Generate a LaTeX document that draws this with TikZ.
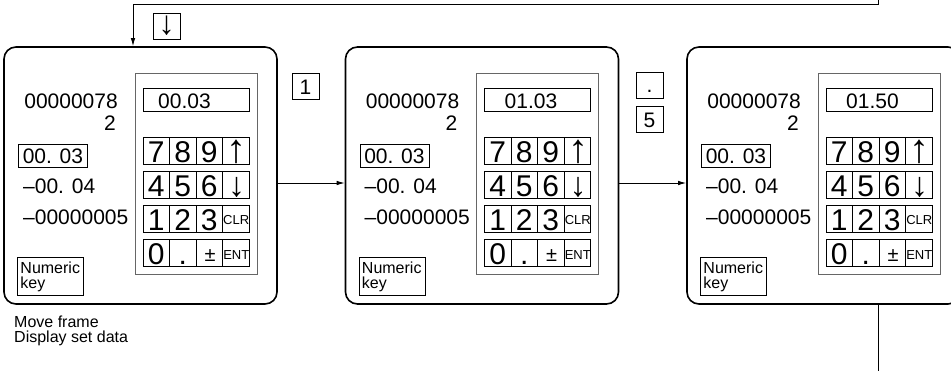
\documentclass[tikz,border=0pt]{standalone}
\usepackage{fontspec}
\setmainfont{Liberation Sans}
\usetikzlibrary{arrows.meta}
\tikzset{
  screen/.style={draw,line width=1.6pt,rounded corners=12pt,minimum width=273pt,minimum height=257pt,inner sep=0},
  panel/.style={draw=black!60,line width=0.8pt},
  keyline/.style={line width=0.9pt},
  txt/.style={font=\fontsize{21}{21}\selectfont,inner sep=0},
  keytxt/.style={font=\fontsize{30}{30}\selectfont,inner sep=0,anchor=base},
  keysmall/.style={font=\fontsize{13}{13}\selectfont,inner sep=0,anchor=base},
  note/.style={font=\fontsize{16}{15}\selectfont,inner sep=0,align=left},
  keybox/.style={draw,line width=0.9pt,minimum width=27pt,minimum height=26pt,inner sep=0,
    text height=15pt,text depth=0pt,font=\fontsize{21}{21}\selectfont},
  arr/.style={line width=0.9pt,-{Latex[length=8pt,width=4.5pt]}}
}
\begin{document}
\begin{tikzpicture}[x=1pt,y=-1pt]
\clip (0,0) rectangle (951,370);
\foreach \i/\disp/\dx in {0/00.03/0,1/01.03/5,2/01.50/5} {
\begin{scope}[shift={(\i*341.5,0)}]
\node[screen] (f\i) at (140.5,175.5) {};
\draw[panel] (135,73) rectangle (257,274);          % keypad panel
\draw[keyline] (143,88) rectangle (249,111);        % entry window
\node[txt,anchor=base west] (d\i) at (158+\dx,108) {\disp};
\foreach \kr in {0,...,3} \foreach \kc in {0,...,3}
  \draw[keyline] (143+26.5*\kc,137+34*\kr) rectangle ++(26.5,27);
\foreach \lab [count=\n from 0] in {7,8,9,4,5,6,1,2,3} {
  \pgfmathtruncatemacro\kc{mod(\n,3)}
  \pgfmathtruncatemacro\kr{\n/3}
  \node[keytxt] (k\i-\lab) at (156.25+26.5*\kc,162+34*\kr) {\lab};
}
\node[keytxt] (k\i-0) at (156.25,264) {0};
\node[keytxt] (k\i-dot) at (182.75,264) {.};
\node[keytxt,font=\fontsize{20}{20}\selectfont] (k\i-pm) at (210,261) {±};
\node[keytxt,anchor=center,font=\fontsize{40}{40}\selectfont] (k\i-up) at (236.5,151.5) {↑};
\node[keytxt,anchor=center,font=\fontsize{34}{34}\selectfont] (k\i-dn) at (236.5,187) {↓};
\node[keysmall] (k\i-clr) at (236.25,224) {CLR};
\node[keysmall] (k\i-ent) at (236.25,259) {ENT};
% values on the left
\node[txt,anchor=base east] (v\i-a) at (118,108) {00000078};
\node[txt,anchor=base east] (v\i-b) at (116,130) {2};
\node[txt,draw,line width=0.9pt,minimum width=69pt,minimum height=23pt,anchor=north west] (v\i-c) at (18,144) {00. 03};
\node[txt,anchor=base west] (v\i-d) at (23,193) {–00. 04};
\node[txt,anchor=base west] (v\i-e) at (23,224) {–00000005};
\node[note,draw,line width=0.9pt,minimum width=66pt,minimum height=38pt,anchor=north west,
  inner xsep=3pt,text width=60pt] (n\i) at (17,257) {Numeric\\key};
\end{scope}}
% keys pressed between the frames
\node[keybox,text height=,text depth=,font=\fontsize{33}{33}\selectfont] (p-dn) at (166.5,26) {↓};
\node[keybox] (p-1) at (305.5,86.5) {1};
\node[keybox] (p-dot) at (649.5,85) {.};
\node[keybox] (p-5) at (649.5,119.5) {5};
\node[note,anchor=north west] (cap) at (14,316) {Move frame\\Display set data};
% connectors
\draw[arr] ([yshift=-7.5pt]f0.east) -- ([yshift=-7.5pt]f1.west);
\draw[arr] ([yshift=-7.5pt]f1.east) -- ([yshift=-7.5pt]f2.west);
\coordinate (loopin) at (878,-10);
\coordinate (loopout) at (878,380);
\draw[line width=0.9pt] ([xshift=54.5pt]f2.south) -- (loopout);
\draw[arr] (loopin) -- (878,4) -| ([xshift=-7.5pt]f0.north);
\end{tikzpicture}
\end{document}
